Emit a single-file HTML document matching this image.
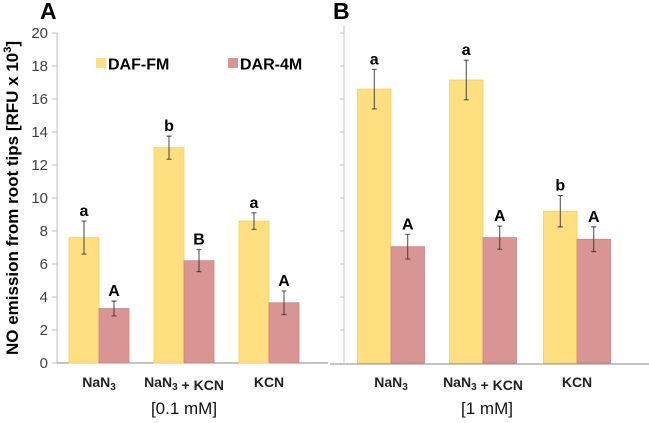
<!DOCTYPE html>
<html><head><meta charset="utf-8"><style>
body{margin:0;background:#fff}
svg text{font-family:"Liberation Sans",Arial,sans-serif}
</style></head><body>
<svg id="c" width="649" height="418" xmlns="http://www.w3.org/2000/svg"></svg>
<script>
const categories=["NaN3","NaN3 + KCN","KCN"];
const dafA=[7.6,13.05,8.6], dafAErr=[1.0,0.7,0.5], dafALetters=["a","b","a"];
const darA=[3.3,6.2,3.65], darAErr=[0.45,0.67,0.72], darALetters=["A","B","A"];
const dafB=[16.6,17.15,9.2], dafBErr=[1.2,1.2,0.95], dafBLetters=["a","a","b"];
const darB=[7.05,7.6,7.5], darBErr=[0.75,0.7,0.75], darBLetters=["A","A","A"];
const yTicks=[0,2,4,6,8,10,12,14,16,18,20];
const NS="http://www.w3.org/2000/svg";
const svg=document.getElementById('c');
function el(t,a,p){const e=document.createElementNS(NS,t);for(const k in a)e.setAttribute(k,a[k]);(p||svg).appendChild(e);return e;}
const y=v=>363-v*16.5;
const YEL="#FFDF80",RED="#D99594";
const axA=el('g',{});


el('line',{x1:57,y1:33,x2:57,y2:363,stroke:"#bfbfbf"},axA);
el('line',{x1:344,y1:25,x2:344,y2:363,stroke:"#c8c8c8"},axA);
el('line',{x1:52,y1:363,x2:328,y2:363,stroke:"#888"},axA);
el('line',{x1:330,y1:364,x2:649,y2:364,stroke:"#888"},axA);
yTicks.forEach(v=>{
 el('line',{x1:52,y1:y(v),x2:57,y2:y(v),stroke:"#bfbfbf"},axA);
 if(v>0)el('line',{x1:340,y1:y(v),x2:344,y2:y(v),stroke:"#bfbfbf"},axA);
 const t=el('text',{x:48,y:y(v)+5,"text-anchor":"end","font-size":15,fill:"#404040"},axA);t.textContent=v;
 
 
});
const yt=el('text',{transform:"translate(18,198) rotate(-90)","text-anchor":"middle","font-size":17,"font-weight":"bold",fill:"#000"});


yt.innerHTML='NO emission from root tips [RFU x 10<tspan font-size="11" dy="-7">3</tspan><tspan dy="7">]</tspan>';
function panel(centers,w,daf,dafE,dafL,dar,darE,darL,name){
 const g=el('g',{});
 
 
 function bar(x,v,e,l,col,nm){
  const r=el('rect',{x:x,y:y(v),width:w,height:y(0)-y(v),fill:col,stroke:col==YEL?"#f5d060":"#c98584","stroke-width":0.8},g);
  
  
  const cx=x+w/2;
  const eb=el('path',{d:`M${cx},${y(v+e)}V${y(v-e)}M${cx-2.5},${y(v+e)}H${cx+2.5}M${cx-2.5},${y(v-e)}H${cx+2.5}`,stroke:"#333","stroke-width":0.9},g);
  
  
  const t=el('text',{x:cx,y:y(v+e)-5,"text-anchor":"middle","font-size":16,"font-weight":"bold"},g);t.textContent=l;
  
  
 }
 centers.forEach((c,i)=>{
  bar(c-w,daf[i],dafE[i],dafL[i],YEL,'bar-daf-fm');
  bar(c,dar[i],darE[i],darL[i],RED,'bar-dar-4m');
  const t=el('text',{x:c,y:387,"text-anchor":"middle","font-size":14,"font-weight":"bold",fill:"#222"},g);
  
  
  t.innerHTML=categories[i].replace(/NaN3/g,'NaN<tspan font-size="10" dy="3">3</tspan><tspan dy="-3"></tspan>');
 });
}
panel([99,184,269],30,dafA,dafAErr,dafALetters,darA,darAErr,darALetters,'panel-a');
panel([391,483,577],33.5,dafB,dafBErr,dafBLetters,darB,darBErr,darBLetters,'panel-b');
[[184,'[0.1 mM]','group-label-a'],[487,'[1 mM]','group-label-b']].forEach(([x,s,n])=>{const t=el('text',{x:x,y:414,"text-anchor":"middle","font-size":17,fill:"#111"});t.textContent=s;
 
 });
[[40,'A','panel-letter-a'],[333,'B','panel-letter-b']].forEach(([x,s,n])=>{const t=el('text',{x:x,y:19,"font-size":23,"font-weight":"bold"});t.textContent=s;
 
 });
const lg=el('g',{});


[[96,YEL,'DAF-FM'],[228,RED,'DAR-4M']].forEach(([x,c,s])=>{
 el('rect',{x:x,y:58,width:10,height:10,fill:c},lg);
 const t=el('text',{x:x+12,y:69.5,"font-size":16,"font-weight":"bold"},lg);t.textContent=s;
 
 
});
</script>
</body></html>
